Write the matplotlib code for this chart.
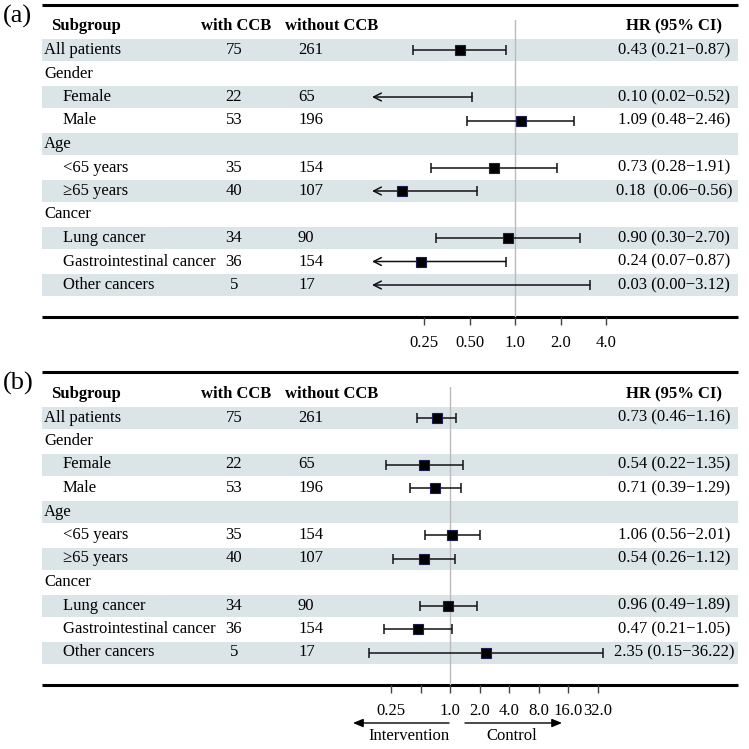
import numpy as np
import matplotlib
matplotlib.use("Agg")
import matplotlib.pyplot as plt

plt.rcParams['font.family'] = ['Liberation Serif', 'DejaVu Serif']

# ---- data ----
labels = ["All patients", "Gender", "Female", "Male", "Age", "<65 years", "\u226565 years",
          "Cancer", "Lung cancer", "Gastrointestinal cancer", "Other cancers"]
indent = [0, 0, 1, 1, 0, 1, 1, 0, 1, 1, 1]
n_with = [75, None, 22, 53, None, 35, 40, None, 34, 36, 5]
n_without = [261, None, 65, 196, None, 154, 107, None, 90, 154, 17]

hr_a = [0.43, None, 0.10, 1.09, None, 0.73, 0.18, None, 0.90, 0.24, 0.03]
lo_a = [0.21, None, 0.02, 0.48, None, 0.28, 0.06, None, 0.30, 0.07, 0.00]
hi_a = [0.87, None, 0.52, 2.46, None, 1.91, 0.56, None, 2.70, 0.87, 3.12]
ci_a = ["0.43 (0.21\u22120.87)", "", "0.10 (0.02\u22120.52)", "1.09 (0.48\u22122.46)", "",
        "0.73 (0.28\u22121.91)", "0.18  (0.06\u22120.56)", "", "0.90 (0.30\u22122.70)",
        "0.24 (0.07\u22120.87)", "0.03 (0.00\u22123.12)"]

hr_b = [0.73, None, 0.54, 0.71, None, 1.06, 0.54, None, 0.96, 0.47, 2.35]
lo_b = [0.46, None, 0.22, 0.39, None, 0.56, 0.26, None, 0.49, 0.21, 0.15]
hi_b = [1.16, None, 1.35, 1.29, None, 2.01, 1.12, None, 1.89, 1.05, 36.22]
ci_b = ["0.73 (0.46\u22121.16)", "", "0.54 (0.22\u22121.35)", "0.71 (0.39\u22121.29)", "",
        "1.06 (0.56\u22122.01)", "0.54 (0.26\u22121.12)", "", "0.96 (0.49\u22121.89)",
        "0.47 (0.21\u22121.05)", "2.35 (0.15\u221236.22)"]

ticks_a = [0.25, 0.5, 1, 2, 4]
ticklabels_a = ["0.25", "0.50", "1.0", "2.0", "4.0"]
ticks_b = [0.25, 0.5, 1, 2, 4, 8, 16, 32]
ticklabels_b = ["0.25", "", "1.0", "2.0", "4.0", "8.0", "16.0", "32.0"]

# ---- layout (pixel units) ----
W = 749
FS = 12
SHADE = '#dbe5e8'
pitch = 23.5
x_left, x_right = 42, 738

fig = plt.figure(figsize=(7.49, 7.49), dpi=100)
bg = fig.add_axes([0, 0, 1, 1])
bg.set_xlim(0, W)
bg.set_ylim(W, 0)
bg.axis('off')


def panel(tag, top_y, row0_y, axis_y, ref_px, px_per2, fx0, fx1,
          hr, lo, hi, ci, ticks, ticklabels):
    rows_y = [row0_y + i * pitch for i in range(len(labels))]
    head_y = row0_y - pitch

    bg.text(3, top_y + 11, tag, fontsize=19, va='center', ha='left')
    bg.hlines([top_y, axis_y], x_left, x_right, color='black', lw=2.2)

    for i, y in enumerate(rows_y):
        if i % 2 == 0:
            bg.axhspan(y - 11, y + 11, xmin=x_left / W, xmax=x_right / W,
                       color=SHADE, lw=0, zorder=0)

    bg.text(51, head_y, "Subgroup", fontsize=FS, weight='bold', va='center')
    bg.text(201, head_y, "with CCB", fontsize=FS, weight='bold', va='center')
    bg.text(285, head_y, "without CCB", fontsize=FS, weight='bold', va='center')
    bg.text(674, head_y, "HR (95% CI)", fontsize=FS, weight='bold', va='center', ha='center')

    for i, y in enumerate(rows_y):
        bg.text(44 + 19 * indent[i], y, labels[i], fontsize=FS, va='center')
        if n_with[i] is not None:
            bg.text(234, y, str(n_with[i]), fontsize=FS, va='center', ha='center')
            bg.text(298, y, str(n_without[i]), fontsize=FS, va='center')
        if ci[i]:
            bg.text(674, y, ci[i], fontsize=FS, va='center', ha='center')

    # forest axes sharing pixel rows
    y_top = top_y + 15
    ax = fig.add_axes([fx0 / W, 1 - axis_y / W, (fx1 - fx0) / W, (axis_y - y_top) / W])
    ax.set_xscale('log', base=2)
    xmin = 2 ** ((fx0 - ref_px) / px_per2)
    xmax = 2 ** ((fx1 - ref_px) / px_per2)
    ax.set_xlim(xmin, xmax)
    ax.set_ylim(axis_y, y_top)
    ax.patch.set_alpha(0)
    for s in ax.spines.values():
        s.set_visible(False)
    ax.set_yticks([])
    ax.set_xticks(ticks)
    ax.set_xticklabels(ticklabels, fontsize=FS)
    ax.xaxis.set_minor_locator(matplotlib.ticker.NullLocator())
    ax.tick_params(axis='x', direction='out', length=6, width=1, color='#444444', pad=7)
    ax.axvline(1, color='#bbbbbb', lw=1, zorder=1)

    for i, y in enumerate(rows_y):
        if hr[i] is None:
            continue
        if lo[i] < xmin:
            ax.annotate('', xy=(xmin, y), xytext=(hi[i], y),
                        arrowprops=dict(arrowstyle='->,head_length=0.55,head_width=0.28',
                                        lw=1.1, color='#111111', shrinkA=0, shrinkB=0))
        else:
            ax.hlines(y, lo[i], hi[i], color='#111111', lw=1.1)
            ax.plot([lo[i]], [y], marker='|', ms=6.5, mew=1.1, color='#111111')
        ax.plot([hi[i]], [y], marker='|', ms=6.5, mew=1.1, color='#111111')
        if hr[i] >= xmin:
            ax.plot([hr[i]], [y], marker='s', ms=6.5, color='black',
                    mec='#1b1b55', mew=0.8, zorder=3)
    return ax


panel("(a)", 5, 50, 317, 515, 45.5, 372, 620,
      hr_a, lo_a, hi_a, ci_a, ticks_a, ticklabels_a)
panel("(b)", 372, 417.5, 685, 450, 29.5, 355, 615,
      hr_b, lo_b, hi_b, ci_b, ticks_b, ticklabels_b)

# direction arrows under panel (b)
arr = dict(arrowstyle='-|>,head_length=0.6,head_width=0.25', lw=1, color='black',
           shrinkA=0, shrinkB=0)
bg.annotate('', xy=(353, 723), xytext=(449, 723), arrowprops=arr)
bg.annotate('', xy=(562, 723), xytext=(465, 723), arrowprops=arr)
bg.text(409, 736, "Intervention", fontsize=FS, ha='center', va='center')
bg.text(512, 736, "Control", fontsize=FS, ha='center', va='center')

fig.savefig("out.png", dpi=100)
